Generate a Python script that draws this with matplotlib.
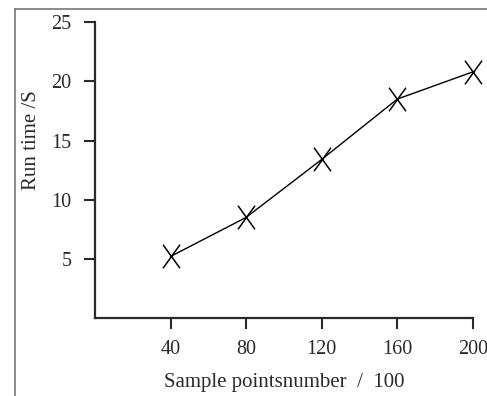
import matplotlib.pyplot as plt
from matplotlib.lines import Line2D
from matplotlib.path import Path

plt.rcParams['font.family'] = ['Liberation Serif', 'DejaVu Serif']

# data
sample_points = [40, 80, 120, 160, 200]
run_time = [5.2, 8.5, 13.4, 18.5, 20.8]
x_ticks = [40, 80, 120, 160, 200]
y_ticks = [5, 10, 15, 20, 25]

# tall "X" marker like the one in the picture
tall_x = Path([(-0.72, -1), (0.72, 1), (-0.72, 1), (0.72, -1)],
              [Path.MOVETO, Path.LINETO, Path.MOVETO, Path.LINETO])

fig = plt.figure(figsize=(4.87, 3.96), dpi=100)
ax = fig.add_axes([0.195, 0.197, 0.776, 0.747])

ax.plot(sample_points, run_time, color='black', linewidth=1.0,
        marker=tall_x, markersize=17, markeredgewidth=1.1,
        markerfacecolor='none', clip_on=False)

ax.set_xlim(0, 200)
ax.set_ylim(0, 25)
ax.set_xticks(x_ticks)
ax.set_yticks(y_ticks)
ax.tick_params(direction='out', length=8, width=1.5, labelsize=14.5,
               colors='#2a2a2a')
ax.tick_params(axis='x', pad=8)
ax.tick_params(axis='y', pad=9)

for s in ['top', 'right']:
    ax.spines[s].set_visible(False)
for s in ['left', 'bottom']:
    ax.spines[s].set_linewidth(1.6)
    ax.spines[s].set_color('#2a2a2a')

ax.set_xlabel('Sample pointsnumber  /  100', fontsize=15, color='#2a2a2a')
ax.set_ylabel('Run time /S', fontsize=15, color='#2a2a2a')
ax.xaxis.set_label_coords(0.5, -0.185)
ax.yaxis.set_label_coords(-0.142, 0.6)

# grey frame around the picture (left and top edges)
fig.add_artist(Line2D([15 / 487, 15 / 487], [0, 1 - 9 / 396],
                      transform=fig.transFigure, color='#777777', linewidth=1.2))
fig.add_artist(Line2D([15 / 487, 1], [1 - 9 / 396, 1 - 9 / 396],
                      transform=fig.transFigure, color='#777777', linewidth=1.2))

fig.savefig('out.png', dpi=100)
